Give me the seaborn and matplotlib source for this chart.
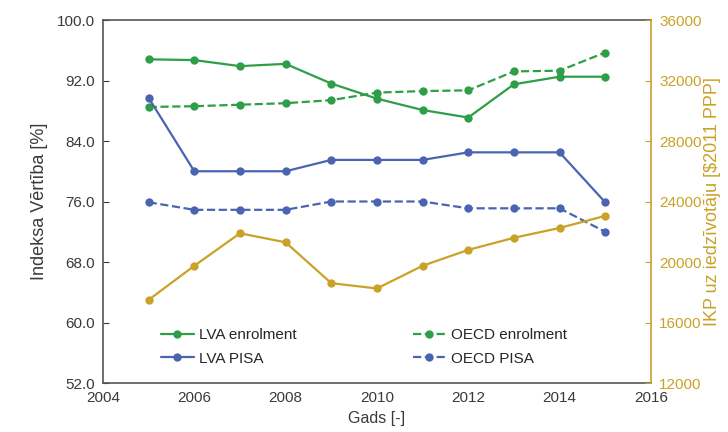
import pandas as pd
import seaborn as sns
import matplotlib.pyplot as plt

# chart values
years = [2005, 2006, 2007, 2008, 2009, 2010, 2011, 2012, 2013, 2014, 2015]
lva_enrolment = [94.8, 94.7, 93.9, 94.2, 91.6, 89.6, 88.1, 87.1, 91.5, 92.5, 92.5]
oecd_enrolment = [88.5, 88.6, 88.8, 89.0, 89.4, 90.4, 90.6, 90.7, 93.2, 93.3, 95.7]
lva_pisa = [89.7, 80.0, 80.0, 80.0, 81.5, 81.5, 81.5, 82.5, 82.5, 82.5, 75.9]
oecd_pisa = [75.9, 74.9, 74.9, 74.9, 76.0, 76.0, 76.0, 75.1, 75.1, 75.1, 72.0]
gdp = [17500, 19750, 21900, 21300, 18600, 18250, 19750, 20800, 21600, 22250, 23050]

sns.set_style("white")
plt.rcParams['font.family'] = ['Liberation Sans', 'DejaVu Sans']

green = '#2e9e48'
blue = '#4a64b2'
gold = '#c9a227'
dark = '#3a3a3a'

fig = plt.figure(figsize=(7.28, 4.32), dpi=100)
ax = fig.add_axes([0.1415, 0.1134, 0.7525, 0.8403])
ax2 = ax.twinx()

df = pd.DataFrame({'year': years, 'lva_enr': lva_enrolment, 'oecd_enr': oecd_enrolment,
                   'lva_pisa': lva_pisa, 'oecd_pisa': oecd_pisa, 'gdp': gdp})

kw = dict(marker='o', markersize=6, markeredgewidth=0, linewidth=1.6)
sns.lineplot(data=df, x='year', y='lva_enr', ax=ax, color=green, label='LVA enrolment', **kw)
sns.lineplot(data=df, x='year', y='oecd_enr', ax=ax, color=green, linestyle='--', label='OECD enrolment', **kw)
sns.lineplot(data=df, x='year', y='lva_pisa', ax=ax, color=blue, label='LVA PISA', **kw)
sns.lineplot(data=df, x='year', y='oecd_pisa', ax=ax, color=blue, linestyle='--', label='OECD PISA', **kw)
sns.lineplot(data=df, x='year', y='gdp', ax=ax2, color=gold, legend=False, **kw)

ax.set_xlim(2004, 2016)
ax.set_xticks(range(2004, 2017, 2))
ax.set_ylim(52, 100)
ax.set_yticks(range(52, 101, 8))
ax.set_yticklabels([f'{v:.1f}' for v in range(52, 101, 8)])
ax2.set_ylim(12000, 36000)
ax2.set_yticks(range(12000, 36001, 4000))

ax.set_xlabel('Gads [-]', fontsize=11.5, color=dark)
ax.set_ylabel('Indeksa Vērtība [%]', fontsize=13, color=dark, labelpad=6)
ax2.set_ylabel('IKP uz iedzīvotāju [\\$2011 PPP]', fontsize=13, color=gold, labelpad=2)

ax.tick_params(axis='both', direction='in', length=4, labelsize=11, colors=dark, pad=6)
ax2.tick_params(axis='y', direction='in', length=4, labelsize=11, colors=gold, pad=6)
for side in ['left', 'top', 'bottom']:
    ax.spines[side].set_color('#555555')
    ax.spines[side].set_linewidth(1.2)
    ax2.spines[side].set_visible(False)
ax.spines['right'].set_visible(False)
ax2.spines['right'].set_color(gold)
ax2.spines['right'].set_linewidth(1.2)

# legend rows: enrolment on top, PISA below
handles, labels = ax.get_legend_handles_labels()
order = [0, 2, 1, 3]
ax.legend([handles[i] for i in order], [labels[i] for i in order],
          loc='lower left', bbox_to_anchor=(0.08, 0.01), ncol=2, frameon=False,
          fontsize=11, columnspacing=7.6, handlelength=2.2, labelspacing=0.6, handletextpad=0.3)

fig.savefig('out.png', dpi=100)
